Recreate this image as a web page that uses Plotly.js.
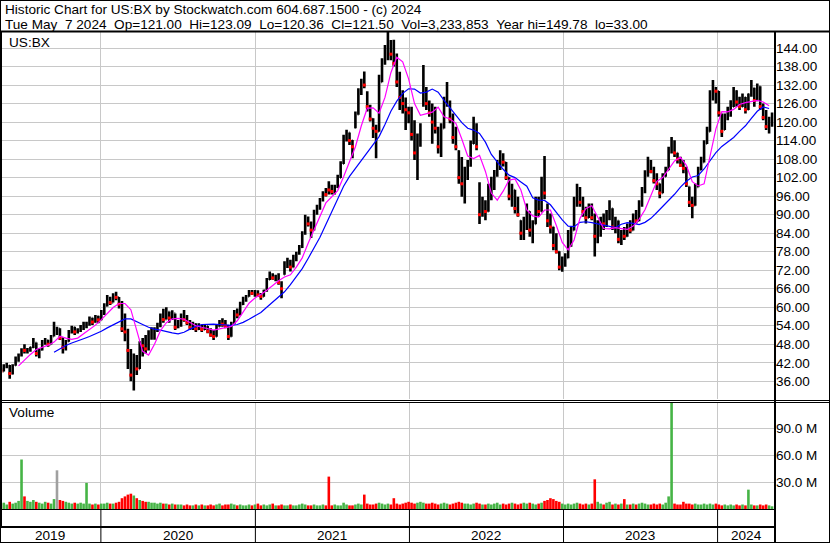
<!DOCTYPE html>
<html><head><meta charset="utf-8">
<script src="https://cdn.plot.ly/plotly-3.0.1.min.js"></script>
<style>html,body{margin:0;padding:0;background:#fff;overflow:hidden}#chart{width:830px;height:543px}</style>
</head><body><div id="chart"></div>
<script>
// ---------- DATA (weekly bars) ----------
const firstWeek = '2019-05-09';
const open = [
 39.6,39.3,40.8,41.0,38.5,41.2,43.6,44.6,46.2,46.0,46.3,47.0,48.5,45.0,46.2,48.8,49.2,48.0,50.6,53.0,53.0,50.0,47.0,49.0,52.0,53.4,52.0,52.8,53.8,54.0,54.5,56.5,55.2,57.0,
 55.9,58.6,60.5,63.0,61.5,64.0,63.2,61.0,53.0,52.0,46.0,38.0,43.0,40.0,48.0,47.5,46.5,50.5,51.0,52.5,54.5,57.0,56.0,58.5,56.5,58.0,53.5,55.0,57.5,56.0,55.0,53.5,54.5,53.0,54.0,52.8,53.8,52.2,51.0,50.5,53.8,55.0,54.5,54.0,50.5,54.8,58.0,57.5,61.0,62.8,63.5,65.0,64.5,64.8,
 64.0,63.5,65.5,69.0,70.5,69.5,70.0,68.0,70.6,74.0,75.0,73.0,76.0,77.5,79.5,84.0,88.0,87.0,85.0,91.0,92.5,95.0,97.0,99.8,98.0,97.5,99.0,102.0,106.5,115.0,116.5,114.0,118.2,122.5,130.0,133.0,128.0,125.0,121.0,118.0,117.0,133.0,139.0,144.0,146.0,142.0,139.0,133.0,128.0,126.0,124.0,
 123.0,116.0,110.0,114.0,126.0,130.0,126.0,123.0,120.0,118.0,112.0,118.0,127.0,126.5,121.0,115.0,110.5,102.0,100.0,103.0,106.0,113.0,118.0,100.0,90.0,93.0,91.0,98.0,100.0,103.5,106.0,109.0,107.0,102.0,96.0,98.0,92.0,88.0,84.0,88.0,91.0,85.0,87.0,93.0,91.0,100.0,93.0,88.0,86.0,80.0,78.0,73.0,
 74.5,76.0,84.0,85.0,94.0,97.0,94.0,91.0,89.0,92.0,89.0,83.0,86.0,88.0,87.0,90.0,92.0,86.0,88.0,82.0,84.0,83.0,86.5,85.0,89.5,88.0,93.5,98.0,103.0,107.0,104.0,101.0,100.0,97.0,102.4,104.5,111.0,112.0,110.0,108.0,106.0,105.0,99.0,94.0,93.0,99.0,104.5,107.0,113.0,117.0,128.0,131.0,
 130.0,122.5,117.5,122.0,124.0,125.0,130.0,126.5,125.0,128.0,124.0,129.0,131.0,127.0,131.5,125.0,121.5,118.5,120.5
];
const high = [
 40.3,41.5,42.0,41.3,41.5,44.0,45.0,46.7,48.0,46.8,47.2,50.0,48.6,46.7,49.4,50.0,49.5,51.0,55.3,53.7,53.2,50.2,49.4,52.6,54.0,53.7,53.2,54.2,55.3,55.3,57.0,56.6,57.5,57.2,
 59.1,61.3,64.0,63.4,64.5,65.0,63.3,62.0,58.0,53.0,46.5,45.0,44.5,49.0,50.0,51.0,52.5,53.5,53.5,55.0,58.0,59.5,60.0,58.6,59.0,58.0,55.9,58.0,59.1,57.5,55.9,55.3,54.8,54.8,54.2,54.2,53.9,53.2,52.6,54.2,55.9,56.4,55.9,54.2,55.3,59.1,59.6,61.8,63.4,64.0,65.6,65.6,65.6,65.5,
 64.6,65.7,69.5,71.6,71.0,70.5,71.0,68.4,74.9,76.0,75.4,77.0,78.0,80.2,84.6,90.0,89.4,87.8,91.6,93.2,95.4,97.6,98.6,100.8,99.7,99.7,102.9,107.3,115.9,117.5,116.6,114.2,123.4,131.0,134.0,136.4,130.0,125.6,121.2,119.1,135.3,140.7,145.0,149.78,146.6,146.7,142.2,136.3,130.3,128.0,125.0,
 125.0,120.6,116.3,119.6,138.5,131.4,127.0,126.0,125.0,118.5,119.6,128.2,133.0,127.0,122.8,118.5,110.9,108.7,105.5,107.7,114.0,121.7,119.6,100.5,95.8,94.7,100.0,102.3,104.5,107.7,110.9,109.9,107.1,102.1,100.0,98.1,95.8,88.2,89.3,93.6,91.1,88.2,95.8,95.8,102.3,109.0,93.6,90.4,86.1,84.0,78.1,76.4,
 77.5,85.0,86.1,95.8,100.0,99.0,95.8,92.6,93.6,93.6,90.4,88.2,89.3,90.4,91.5,94.7,92.1,89.3,88.1,85.0,86.0,87.1,88.2,90.4,91.5,94.7,99.0,104.4,108.8,107.7,105.5,103.4,100.1,103.4,105.5,112.0,115.2,114.1,110.1,108.8,107.7,105.5,99.1,95.8,100.1,105.5,108.8,114.1,118.5,130.3,133.6,131.4,
 130.1,122.8,122.8,125.0,127.1,131.4,130.3,128.2,129.3,128.1,129.3,133.6,131.1,132.5,131.6,126.0,123.9,121.7,123.09
];
const low = [
 38.8,39.2,40.2,36.8,38.2,41.0,42.3,44.0,45.0,45.0,45.6,46.8,44.0,43.5,46.0,47.8,47.2,47.9,50.5,51.0,49.4,45.0,46.0,48.8,51.5,51.0,51.5,52.0,52.6,53.2,54.0,54.2,55.0,54.8,
 55.8,57.5,60.2,60.7,61.5,62.3,59.6,52.0,49.0,40.0,36.0,33.0,38.0,40.0,44.0,45.0,46.0,49.5,49.5,52.0,53.5,55.0,56.0,55.0,55.9,52.6,53.2,53.7,55.3,54.2,52.6,52.6,52.0,52.6,52.0,52.6,51.6,50.4,49.4,50.4,53.7,53.7,53.2,49.4,50.4,54.6,56.4,57.4,60.7,61.8,63.4,64.0,63.4,63.5,
 62.4,63.4,65.0,68.8,68.9,68.4,67.3,62.9,70.5,72.7,71.6,72.9,74.9,77.0,79.2,83.5,86.2,82.4,84.9,90.0,91.6,94.3,95.9,96.5,96.5,96.5,98.6,101.9,106.4,113.7,112.6,108.3,118.0,122.4,128.8,131.0,123.4,120.2,114.8,108.3,116.9,132.9,138.6,140.0,140.0,138.0,131.4,123.9,122.8,117.4,119.6,
 114.0,107.7,101.2,112.0,125.0,123.9,121.7,113.0,116.3,109.8,108.7,117.9,125.0,119.6,113.0,110.9,100.0,95.8,93.6,101.2,105.5,112.9,110.9,87.0,89.3,88.2,90.9,94.7,98.0,102.3,104.5,105.6,101.2,94.7,92.6,90.4,89.3,81.8,81.8,85.0,82.8,80.7,86.9,89.3,90.9,95.0,86.0,83.9,78.5,77.4,72.0,71.5,
 73.1,75.9,79.6,84.9,92.6,92.6,89.3,87.1,88.9,88.2,76.4,80.7,82.8,85.0,86.0,88.2,85.0,84.0,80.7,80.2,81.8,82.8,84.0,84.9,87.1,87.9,92.6,96.9,102.3,103.4,100.1,98.0,95.3,96.9,102.3,104.4,109.8,108.7,106.6,105.5,103.4,99.0,92.5,88.8,92.9,98.9,104.4,106.9,112.9,116.9,127.0,126.0,
 121.7,115.2,117.4,120.6,121.7,124.9,125.0,123.9,124.9,122.8,123.9,128.2,125.0,126.9,123.9,120.6,117.4,116.3,118.5
];
const close = [
 39.3,40.8,41.5,38.5,41.0,43.6,44.6,46.2,46.0,46.3,47.0,48.5,45.0,46.2,48.8,49.2,48.0,50.6,53.5,53.0,50.0,47.0,49.0,52.0,53.4,52.0,52.8,53.8,54.0,54.5,56.5,55.2,57.0,55.9,
 58.6,60.5,63.0,61.5,64.0,63.2,61.0,53.0,52.0,46.0,38.0,43.0,40.0,48.0,47.5,46.5,50.5,51.0,52.5,54.5,57.0,56.0,58.5,56.5,58.0,53.5,55.0,57.5,56.0,55.0,53.5,54.5,53.0,54.0,52.8,53.8,52.2,51.0,50.5,53.8,55.0,54.5,54.0,50.5,54.8,58.0,57.5,61.0,62.8,63.5,65.0,64.5,64.8,64.0,
 63.5,65.5,69.0,70.5,69.5,70.0,68.0,66.0,74.0,75.0,73.0,76.0,77.5,79.5,84.0,88.0,87.0,85.0,91.0,92.5,95.0,97.0,96.5,98.0,97.5,99.0,102.0,106.5,115.0,116.5,114.0,112.0,122.5,130.0,133.0,132.0,125.0,121.0,118.0,117.0,133.0,139.0,144.0,146.0,142.0,139.0,133.0,128.0,126.0,124.0,123.0,
 116.0,110.0,114.0,118.0,130.0,126.0,123.0,120.0,118.0,112.0,118.0,127.0,128.0,121.0,115.0,112.0,102.0,100.0,103.0,106.0,113.0,118.0,112.0,90.0,93.0,91.0,98.0,100.0,103.5,106.0,109.0,107.0,102.0,96.0,98.0,92.0,90.0,84.0,88.0,91.0,85.0,87.0,93.0,91.0,100.0,97.0,88.0,86.0,80.0,78.0,73.0,74.5,
 76.0,84.0,85.0,94.0,97.0,94.0,91.0,89.0,92.0,89.0,83.0,86.0,88.0,87.0,90.0,92.0,86.0,88.0,82.0,84.0,83.0,86.5,85.0,89.5,88.0,93.5,98.0,103.0,107.0,104.0,101.0,100.0,97.0,102.0,104.5,111.0,112.0,110.0,108.0,106.0,105.0,100.0,94.0,93.0,99.0,104.5,107.0,113.0,117.0,128.0,131.0,130.0,
 123.0,117.0,122.0,124.0,125.0,130.0,126.5,125.0,128.0,124.0,129.0,131.0,127.0,131.5,125.0,121.5,118.5,120.5,121.5
];
// volume in millions (tallest daily bar visible in each week)
const volume = [
 6,7,5,8,6,7,9,55,14,9,8,10,8,7,6,8,7,6,11,43,10,9,8,7,6,7,6,7,6,29,6,5,6,5,
 6,6,7,6,6,7,8,12,14,16,17,15,12,10,9,8,8,7,7,6,7,6,6,5,6,5,5,5,4,5,4,4,5,4,5,4,4,5,4,5,6,4,5,5,6,5,4,5,4,4,5,4,5,6,
 4,5,4,5,6,4,4,5,4,4,5,4,4,5,6,5,4,4,5,4,4,5,4,36,4,5,4,4,7,5,4,4,5,6,5,16,6,5,5,6,7,6,5,6,5,12,6,5,6,7,8,
 7,6,7,8,7,6,6,7,6,5,6,7,6,5,6,7,8,7,6,6,5,6,7,6,5,5,6,5,6,7,5,6,5,6,7,6,5,6,7,6,7,6,5,6,7,9,10,12,11,9,8,6,
 5,6,5,6,7,6,5,6,5,6,33,8,6,5,7,8,5,6,5,6,11,5,5,6,5,6,7,6,5,5,6,5,6,5,7,14,118,6,5,5,8,6,6,5,6,5,5,6,5,6,5,6,
 5,4,5,4,5,4,5,4,5,4,21.5,5,4,4,5,4,5,4,3
];
// moving averages read every second week (magenta = short, blue = long)
const maShort = [
 null,null,null,41.0,42.9,44.7,46.3,46.9,47.7,48.7,
 50.6,50.0,49.6,50.0,51.4,52.6,54.2,56.0,57.9,59.9,
 61.2,61.2,59.2,52.0,45.7,44.5,48.0,52.4,55.0,56.2,
 56.4,56.1,55.1,54.0,53.5,53.0,52.6,53.0,53.5,53.8,
 55.6,58.6,61.3,63.0,64.1,65.5,67.2,68.6,69.8,70.5,
 73.0,76.0,80.7,85.2,89.9,93.8,95.8,97.8,102.3,107.0,
 112.0,118.8,124.5,124.6,122.9,128.0,136.0,141.0,139.5,134.0,
 126.0,122.2,122.6,123.2,124.8,121.7,121.0,119.6,114.5,109.0,
 108.2,109.2,104.0,97.0,94.7,97.6,101.2,101.6,98.0,91.5,
 89.6,89.2,91.5,91.5,86.5,81.0,78.6,81.8,88.8,92.0,
 92.9,89.2,85.5,85.4,85.8,85.5,85.2,86.3,88.5,91.6,
 96.0,100.8,102.0,104.7,107.4,108.6,106.0,100.7,99.3,100.0,
 108.5,117.8,123.4,123.3,124.1,125.7,126.3,126.6,127.0,126.5,
 125.3
];
const maLong = [
 null,null,null,null,null,null,null,null,null,45.4,
 46.5,47.6,48.4,49.2,49.8,50.5,51.3,52.2,53.3,54.3,
 55.4,56.2,56.2,55.4,54.4,53.5,52.9,52.6,52.1,51.7,
 51.4,51.9,52.9,53.8,54.4,54.5,54.5,54.4,54.2,54.1,
 54.4,55.1,56.1,57.2,58.3,60.0,61.6,63.1,65.0,67.3,
 69.8,72.5,75.8,79.2,82.7,86.8,91.0,95.4,99.2,102.4,
 105.0,107.6,110.2,112.7,115.3,119.2,123.5,126.8,129.3,130.8,
 130.7,129.4,129.7,130.7,129.7,127.0,124.6,122.3,119.8,118.0,
 117.4,116.3,113.5,109.5,107.2,104.7,102.8,102.0,100.6,99.2,
 95.5,94.7,94.6,93.2,90.7,88.3,86.3,86.1,87.5,87.7,
 87.4,87.0,86.7,86.1,85.8,86.9,87.4,87.2,86.8,87.5,
 88.8,90.7,92.6,94.5,96.6,98.9,100.8,102.2,102.7,104.8,
 107.5,110.1,112.1,113.5,115.0,117.0,118.8,121.2,123.5,124.9,
 124.4
];
const yearStarts = ['2020-01-01','2021-01-01','2022-01-01','2023-01-01','2024-01-01'];
const yearLabels = ['2019','2020','2021','2022','2023','2024'];
const volumeTicks = [30, 60, 90];
const symbolLabel = 'US:BX';
const volumeLabel = 'Volume';
const header1 = 'Historic Chart for US:BX by Stockwatch.com 604.687.1500 - (c) 2024';
const header2 = 'Tue May  7 2024  Op=121.00  Hi=123.09  Lo=120.36  Cl=121.50  Vol=3,233,853  Year hi=149.78  lo=33.00';

// ---------- BUILD ----------
const W = 830, H = 543;
const px = x => x / W, py = y => 1 - y / H;
const X_RANGE = ['2019-05-07', '2024-05-16'];
const DAY = 86400000;
const t0 = Date.parse(firstWeek + 'T00:00:00Z');
const dates = open.map((_, i) => new Date(t0 + i * 7 * DAY).toISOString().slice(0, 10));
const maDates = dates.filter((_, i) => i % 2 === 0);

const downX = [], downY = [];
close.forEach((c, i) => { if (c < open[i]) { downX.push(dates[i]); downY.push(c); } });
const volColors = close.map((c, i) => c > open[i] ? '#46b446' : (c < open[i] ? '#ff0000' : '#a0a0a0'));

const traces = [
  {type: 'ohlc', x: dates, open: open, high: high, low: low, close: close, xaxis: 'x', yaxis: 'y',
   increasing: {line: {color: '#000', width: 2.6}}, decreasing: {line: {color: '#000', width: 2.6}},
   tickwidth: 0.2, hoverinfo: 'skip'},
  {type: 'scatter', mode: 'markers', x: downX, y: downY, xaxis: 'x', yaxis: 'y',
   marker: {symbol: 'square', size: 3, color: '#ff0000', line: {width: 0}}, hoverinfo: 'skip'},
  {type: 'scatter', mode: 'lines', x: maDates, y: maLong, xaxis: 'x', yaxis: 'y',
   line: {color: '#0000ff', width: 1.2}, hoverinfo: 'skip'},
  {type: 'scatter', mode: 'lines', x: maDates, y: maShort, xaxis: 'x', yaxis: 'y',
   line: {color: '#ff00ff', width: 1.2}, hoverinfo: 'skip'},
  {type: 'bar', x: dates, y: volume, xaxis: 'x2', yaxis: 'y2',
   marker: {color: volColors, line: {width: 0}}, hoverinfo: 'skip'}
];

const gridC = '#c8c8c8';
const xCommon = {type: 'date', range: X_RANGE, domain: [0, 775 / W], showticklabels: false, ticks: '',
  showgrid: true, gridcolor: gridC, gridwidth: 1, tick0: '2020-01-01', dtick: 'M12',
  showline: false, zeroline: false, fixedrange: true, rangeslider: {visible: false}};

const shapes = [];
const hline = (y, x0, x1, w) => shapes.push({type: 'line', xref: 'paper', yref: 'paper',
  x0: px(x0), x1: px(x1), y0: py(y), y1: py(y), line: {color: '#000', width: w}});
const vline = (x, y0, y1, w) => shapes.push({type: 'line', xref: 'paper', yref: 'paper',
  x0: px(x), x1: px(x), y0: py(y0), y1: py(y1), line: {color: '#000', width: w}});
hline(0.5, 0, W, 1);          // top border
hline(542.5, 0, W, 1);        // bottom border
vline(0.5, 0, H, 1);          // left border
vline(1.5, 31, 527, 1);       // left inner
vline(829.5, 0, H, 1);        // right border
hline(31.5, 0, W, 2);         // header separator
hline(400.5, 0, W, 1);        // double separator
hline(402.5, 0, W, 1);
hline(509.5, 0, 775, 1);      // volume bottom
hline(527, 0, 775, 2);        // date band separator
vline(775, 31, H, 2);         // axis separator
yearStarts.forEach(d => shapes.push({type: 'line', xref: 'x', yref: 'paper', x0: d, x1: d,
  y0: py(542), y1: py(510), line: {color: '#000', width: 1}}));

const edges = [X_RANGE[0]].concat(yearStarts, [X_RANGE[1]]).map(d => Date.parse(d + 'T00:00:00Z'));
const hdrFont = {size: 13.6};
const annotations = [
  {text: header1, xref: 'paper', yref: 'paper', x: px(3), y: py(9.5), xanchor: 'left', yanchor: 'middle', showarrow: false, font: hdrFont},
  {text: header2.replace(/ /g, '\u00a0'), xref: 'paper', yref: 'paper', x: px(3), y: py(24), xanchor: 'left', yanchor: 'middle', showarrow: false, font: hdrFont},
  {text: symbolLabel, xref: 'paper', yref: 'paper', x: px(7), y: py(42), xanchor: 'left', yanchor: 'middle', showarrow: false, font: hdrFont},
  {text: volumeLabel, xref: 'paper', yref: 'paper', x: px(7), y: py(413), xanchor: 'left', yanchor: 'middle', showarrow: false, font: hdrFont}
];
yearLabels.forEach((lab, i) => annotations.push({text: lab, xref: 'x', yref: 'paper',
  x: new Date((edges[i] + edges[i + 1]) / 2).toISOString().slice(0, 10), y: py(535),
  xanchor: 'center', yanchor: 'middle', showarrow: false, font: hdrFont}));

const layout = {
  width: W, height: H, margin: {l: 0, r: 0, t: 0, b: 0, pad: 0},
  paper_bgcolor: '#fff', plot_bgcolor: '#fff', showlegend: false, bargap: 0.12,
  font: {family: '"Liberation Sans", Arial, sans-serif', size: 13, color: '#000'},
  xaxis: Object.assign({}, xCommon, {anchor: 'y'}),
  xaxis2: Object.assign({}, xCommon, {anchor: 'y2'}),
  yaxis: {domain: [py(399), py(32)], range: [30.26, 149.19], side: 'right', anchor: 'x',
    tick0: 36, dtick: 6, tickformat: '.2f', ticks: '', showgrid: true, gridcolor: gridC,
    showline: false, zeroline: false, fixedrange: true, tickfont: {size: 13.5, color: '#000'}},
  yaxis2: {domain: [py(509), py(403)], range: [0, 117.8], side: 'right', anchor: 'x2',
    tickvals: volumeTicks, ticktext: volumeTicks.map(v => v.toFixed(1) + ' M'), ticks: '',
    showgrid: true, gridcolor: gridC, showline: false, zeroline: false, fixedrange: true,
    tickfont: {size: 13.5, color: '#000'}},
  shapes: shapes, annotations: annotations
};
Plotly.newPlot('chart', traces, layout, {staticPlot: true, displayModeBar: false});
</script></body></html>
